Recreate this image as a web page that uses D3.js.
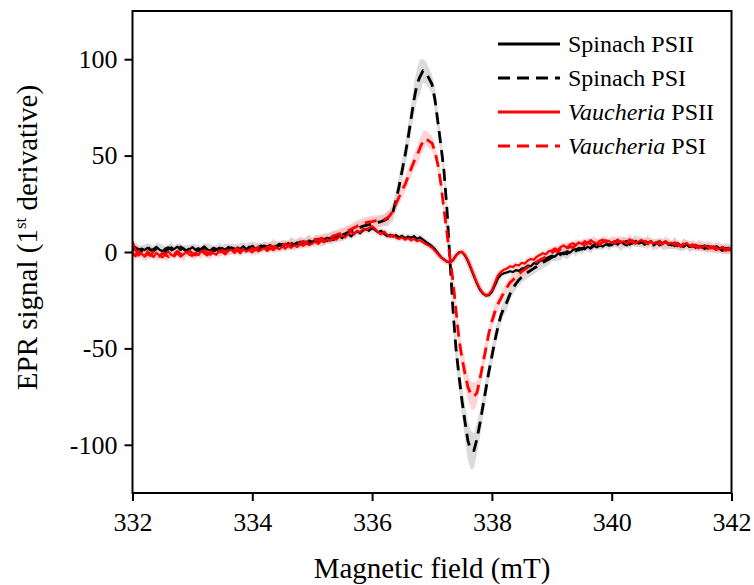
<!DOCTYPE html>
<html><head><meta charset="utf-8">
<script src="https://cdn.jsdelivr.net/npm/d3@7"></script>
<style>html,body{margin:0;padding:0;background:#fff;} svg{display:block;}</style>
</head><body><svg id="chart" width="754" height="585"></svg>
<script>
// ---------- data ----------
const fieldStart = 332, fieldStep = 0.05;   // sampling grid, mT
const xTicks = [332, 334, 336, 338, 340, 342];
const yTicks = [-100, -50, 0, 50, 100];
const legendLabels = [
  {italic: "", roman: "Spinach PSII"},
  {italic: "", roman: "Spinach PSI"},
  {italic: "Vaucheria", roman: " PSII"},
  {italic: "Vaucheria", roman: " PSI"}
];

const spinachPSII = [
  1.5, 2.5, 0.5, 1.8, 1.0, 2.2, 0.8, 1.5, 2.6, 1.2,
  0.4, 1.8, 2.4, 0.9, 1.6, 2.8, 1.0, 1.9, 0.6, 1.4,
  2.5, 1.1, 0.3, 1.7, 2.9, 1.3, 0.8, 2.2, 1.5, 0.7,
  2.0, 1.2, 2.6, 1.8, 0.9, 2.3, 1.6, 3.0, 1.4, 2.1,
  3.2, 1.7, 2.5, 3.4, 2.0, 2.8, 3.6, 2.3, 3.1, 4.2,
  2.8, 3.7, 4.6, 3.2, 4.1, 5.0, 3.9, 4.6, 5.4, 4.3,
  5.0, 6.1, 4.8, 5.9, 6.8, 5.6, 7.0, 6.2, 7.5, 8.3,
  7.2, 8.6, 9.4, 8.1, 9.8, 10.6, 9.7, 11.2, 12.0, 11.0,
  12.4, 11.3, 10.2, 11.0, 9.4, 8.2, 9.0, 8.0, 8.8, 7.6,
  8.4, 7.2, 8.0, 7.4, 8.2, 6.8, 7.6, 6.4, 5.2, 4.2,
  3.0, 1.5, -0.6, -2.6, -3.8, -5.0, -5.4, -4.2, -1.8, -0.2,
  0.0, -1.8, -4.8, -8.6, -12.6, -16.4, -19.6, -21.6, -22.6, -22.4,
  -20.6, -17.4, -13.8, -11.8, -11.0, -10.6, -10.0, -10.4, -9.4, -9.8,
  -8.6, -8.2, -7.0, -7.4, -5.8, -6.2, -4.6, -4.2, -3.4, -2.6,
  -2.0, -2.4, -1.0, -0.6, -1.2, 0.4, -0.4, 1.0, 1.6, 0.8,
  2.0, 1.4, 2.8, 1.8, 3.2, 2.4, 3.6, 2.8, 4.0, 3.4,
  3.6, 4.8, 3.8, 5.4, 4.2, 3.4, 5.2, 4.4, 5.8, 4.6,
  5.6, 3.8, 4.8, 5.6, 4.0, 5.0, 3.4, 4.4, 5.2, 3.6,
  4.2, 3.0, 4.6, 3.4, 2.6, 3.8, 2.8, 3.6, 2.2, 3.2,
  2.4, 3.4, 1.8, 2.8, 2.0, 3.0, 1.6, 2.6, 1.2, 2.2,
  1.0
];

const spinachPSI = [
  0.8, 2.0, 1.4, 0.4, 1.9, 2.6, 1.2, 0.6, 1.8, 2.4,
  1.0, 0.2, 1.6, 2.2, 0.8, 1.4, 2.6, 1.6, 0.5, 1.8,
  2.2, 1.0, 1.8, 0.6, 1.4, 2.4, 1.6, 0.4, 1.2, 2.0,
  1.4, 2.6, 1.0, 2.2, 1.6, 0.8, 2.8, 2.0, 1.2, 2.6,
  2.0, 3.0, 1.6, 2.6, 3.2, 2.2, 3.0, 3.8, 2.6, 3.4,
  4.0, 3.0, 3.8, 4.6, 3.6, 4.4, 5.2, 4.2, 5.0, 5.8,
  5.0, 5.8, 6.6, 5.6, 6.4, 7.2, 6.8, 7.6, 8.4, 8.0,
  8.8, 9.4, 10.2, 10.8, 11.6, 12.2, 12.8, 13.4, 13.8, 14.2,
  14.6, 15.0, 15.4, 15.8, 16.4, 17.2, 18.4, 21.0, 27.0, 34.0,
  42, 50, 59, 69, 79, 87, 91, 94, 93, 90,
  87, 79, 67, 55, 42, 22, -4, -30, -50, -64,
  -77, -88, -98, -103, -103, -97, -89, -80, -71, -62,
  -54, -46, -39, -33, -29, -26, -22, -19, -16.5, -14.5,
  -13, -11.5, -10.5, -9.5, -8.5, -7.5, -6.5, -5.5, -4.6, -3.8,
  -2.8, -2.0, -2.6, -1.2, -0.4, -1.0, 0.6, 1.4, 0.6, 2.0,
  1.4, 2.6, 3.4, 2.2, 3.6, 4.4, 3.2, 4.0, 4.8, 3.6,
  4.6, 5.4, 4.2, 3.4, 4.8, 5.6, 4.0, 5.2, 6.0, 4.6,
  5.2, 4.2, 5.8, 4.4, 3.6, 4.8, 5.4, 4.0, 3.2, 4.4,
  3.6, 4.6, 3.2, 2.4, 3.8, 4.2, 2.8, 3.4, 2.4, 3.6,
  2.8, 1.8, 3.0, 2.2, 1.4, 2.6, 1.8, 0.8, 2.0, 1.2,
  1.6
];

const vaucheriaPSII = [
  5.5, 0.8, -1.8, -0.6, -2.4, 0.4, -1.2, -2.6, -0.4, -1.8,
  -2.8, -1.0, 0.2, -1.6, -2.2, -0.6, -2.4, -1.2, 0.0, -1.4,
  -2.0, -0.4, -1.6, 0.6, -0.8, -1.8, 0.4, -0.6, -1.4, 0.8,
  -0.2, -1.2, 0.6, 1.2, -0.4, 0.8, -0.6, 1.4, 0.2, 1.0,
  -0.2, 1.6, 0.4, 1.2, 2.0, 0.6, 1.8, 1.0, 2.4, 1.4,
  2.8, 1.8, 3.2, 2.2, 3.6, 2.6, 4.0, 3.2, 4.4, 3.6,
  4.4, 5.4, 4.2, 5.8, 5.0, 6.6, 5.8, 7.0, 6.4, 7.8,
  8.6, 7.6, 9.4, 10.4, 9.2, 11.0, 10.2, 12.0, 11.4, 12.6,
  13.4, 12.0, 10.4, 9.2, 10.6, 9.0, 7.8, 8.8, 7.4, 6.8,
  7.6, 6.4, 7.2, 6.0, 6.8, 5.6, 6.2, 5.0, 4.0, 3.2,
  2.2, 0.6, -1.2, -2.8, -4.0, -5.0, -5.6, -4.4, -2.0, -0.4,
  0.2, -1.4, -4.2, -8.0, -12.0, -15.8, -19.0, -21.2, -22.4, -22.0,
  -19.8, -16.0, -12.2, -10.4, -9.2, -8.6, -7.4, -7.8, -6.6, -7.0,
  -5.6, -6.0, -4.4, -3.6, -4.0, -2.4, -1.6, -0.6, -1.2, 0.4,
  0.8, 1.8, 1.0, 2.6, 3.4, 2.2, 3.8, 4.6, 3.4, 5.0,
  4.2, 5.6, 4.6, 6.2, 5.0, 4.4, 5.8, 6.4, 5.0, 5.8,
  4.6, 5.4, 6.2, 4.8, 5.6, 4.2, 5.2, 6.0, 4.8, 5.4,
  6.2, 5.0, 4.2, 5.6, 4.4, 5.2, 3.8, 4.8, 5.6, 4.0,
  4.8, 3.6, 4.4, 2.8, 3.8, 4.6, 3.2, 2.6, 3.8, 3.0,
  2.2, 3.4, 2.6, 1.8, 3.0, 2.2, 1.4, 2.6, 1.6, 0.8,
  1.8
];

const vaucheriaPSI = [
  -0.6, -2.0, 0.4, -1.4, -2.6, -0.8, -1.8, 0.2, -1.2, -2.2,
  -0.6, -1.6, -2.4, -0.4, -1.2, 0.4, -1.0, -2.0, -0.6, 0.6,
  -0.8, -1.6, 0.2, -0.6, 0.8, -0.4, -1.2, 0.6, 1.2, 0.0,
  0.8, -0.2, 1.4, 0.4, 1.0, 1.8, 0.6, 1.6, 2.2, 1.2,
  2.0, 1.0, 2.6, 1.8, 2.8, 2.0, 3.2, 2.4, 3.6, 2.8,
  3.4, 4.2, 3.2, 4.6, 3.8, 5.0, 4.4, 5.6, 4.8, 6.0,
  5.4, 6.6, 6.0, 7.2, 6.6, 7.8, 7.2, 8.4, 8.8, 9.4,
  9.6, 10.4, 11.0, 11.8, 12.6, 13.4, 14.0, 14.8, 15.2, 15.6,
  15.8, 16.2, 16.0, 16.4, 16.8, 17.6, 19.0, 21.5, 25.0, 28.5,
  32, 35, 39, 43, 47, 50, 54, 57.5, 59, 57.5,
  56.5, 52, 45, 35, 22, 10, -3, -15, -30, -45,
  -55, -63, -70, -74, -75, -73, -66, -58, -50, -42,
  -36, -31, -27, -24, -21, -18.5, -16, -14.5, -13, -11.5,
  -10, -9, -8, -7, -6, -5, -4.2, -3.4, -2.4, -1.6,
  -0.4, 0.8, 0.2, 1.6, 2.4, 1.4, 3.0, 2.2, 3.8, 3.0,
  4.4, 3.6, 5.0, 4.2, 5.6, 4.6, 3.8, 5.2, 6.0, 4.8,
  5.6, 4.4, 6.2, 5.0, 5.8, 4.6, 6.4, 5.2, 4.4, 5.8,
  4.8, 5.6, 4.2, 5.4, 4.6, 3.8, 5.0, 4.2, 5.4, 4.4,
  3.6, 4.8, 3.8, 3.0, 4.2, 3.4, 2.6, 3.8, 3.0, 2.2,
  3.2, 2.4, 1.6, 2.8, 2.0, 1.2, 2.4, 1.6, 0.8, 1.8,
  1.0
];

// standard deviation (shaded bands) of the PSI spectra
const spinachPSIsd = [
  2, 3, 2, 3, 2, 2, 3, 2, 3, 2,
  3, 2, 2, 3, 2, 3, 2, 2, 3, 2,
  2, 3, 2, 2, 3, 2, 3, 2, 2, 3,
  2, 2, 3, 2, 3, 2, 2, 3, 2, 3,
  3, 2, 3, 2, 2, 3, 2, 3, 3, 2,
  2, 3, 2, 3, 3, 2, 3, 2, 3, 3,
  2, 3, 2, 3, 3, 2, 3, 3, 3, 3,
  3, 3, 3, 3, 3, 3, 3, 3, 3, 3,
  3, 3, 3, 3, 3, 4, 4, 5, 5, 6,
  6, 6, 7, 7, 8, 8, 9, 6, 6, 5,
  5, 6, 6, 6, 6, 6, 7, 7, 8, 8,
  8, 9, 10, 10, 9, 8, 7, 6, 6, 5,
  5, 5, 4, 4, 4, 4, 3, 3, 3, 3,
  3, 3, 3, 3, 3, 3, 3, 3, 3, 3,
  2, 3, 2, 3, 2, 3, 3, 2, 3, 2,
  3, 2, 3, 3, 2, 3, 2, 3, 2, 3,
  2, 3, 2, 3, 3, 2, 3, 2, 3, 2,
  3, 2, 3, 2, 3, 2, 2, 3, 2, 3,
  2, 3, 2, 2, 3, 2, 3, 2, 2, 3,
  2, 2, 3, 2, 2, 3, 2, 2, 3, 2,
  2
];

const vaucheriaPSIsd = [
  2, 2, 3, 2, 2, 3, 2, 2, 3, 2,
  2, 3, 2, 2, 3, 2, 2, 3, 2, 2,
  3, 2, 2, 3, 2, 2, 3, 2, 2, 3,
  2, 2, 3, 2, 2, 3, 2, 2, 3, 2,
  2, 3, 2, 2, 3, 2, 2, 3, 2, 2,
  3, 2, 2, 3, 2, 2, 3, 2, 2, 3,
  2, 2, 3, 2, 3, 2, 3, 3, 2, 3,
  3, 3, 3, 3, 3, 3, 3, 3, 3, 3,
  3, 3, 3, 3, 3, 3, 3, 3, 4, 4,
  4, 4, 4, 4, 4, 5, 5, 5, 4, 4,
  4, 4, 4, 5, 5, 5, 5, 6, 6, 6,
  6, 7, 7, 7, 7, 6, 5, 5, 5, 4,
  4, 4, 4, 3, 3, 3, 3, 3, 3, 3,
  3, 3, 3, 2, 3, 2, 3, 2, 2, 3,
  2, 2, 3, 2, 2, 3, 2, 2, 3, 2,
  2, 3, 2, 2, 3, 2, 2, 3, 2, 2,
  3, 2, 2, 3, 2, 2, 3, 2, 2, 3,
  2, 2, 3, 2, 2, 3, 2, 2, 3, 2,
  2, 3, 2, 2, 3, 2, 2, 3, 2, 2,
  3, 2, 2, 3, 2, 2, 3, 2, 2, 3,
  2
];

// ---------- drawing ----------
const W = 754, H = 585;
const plot = {left: 132.5, right: 731.5, top: 11, bottom: 493};
const FONT = "'Liberation Serif', 'Times New Roman', serif";

const svg = d3.select("#chart");
svg.append("rect").attr("width", W).attr("height", H).attr("fill", "#fff");

const x = d3.scaleLinear().domain([332, 342]).range([plot.left, plot.right]);
const y = d3.scaleLinear().domain([-125, 125]).range([plot.bottom, plot.top]);
const fieldAt = i => fieldStart + i * fieldStep;

svg.append("defs").append("clipPath").attr("id", "clip")
  .append("rect").attr("x", plot.left).attr("y", plot.top)
  .attr("width", plot.right - plot.left).attr("height", plot.bottom - plot.top);

const g = svg.append("g").attr("clip-path", "url(#clip)");

const band = (vals, sd) => d3.area()
  .x((d, i) => x(fieldAt(i)))
  .y0((d, i) => y(vals[i] - sd[i]))
  .y1((d, i) => y(vals[i] + sd[i]))(vals);

g.append("path").attr("d", band(spinachPSI, spinachPSIsd))
  .attr("fill", "#c8c8c8").attr("fill-opacity", 0.65);
g.append("path").attr("d", band(vaucheriaPSI, vaucheriaPSIsd))
  .attr("fill", "#ffb0b0").attr("fill-opacity", 0.55);

const line = d3.line().x((d, i) => x(fieldAt(i))).y(d => y(d));

// faint halos for the PSII spectra
g.append("path").attr("d", line(spinachPSII)).attr("fill", "none")
  .attr("stroke", "#d0d0d0").attr("stroke-width", 6).attr("stroke-opacity", 0.5).attr("stroke-linejoin", "round");
g.append("path").attr("d", line(vaucheriaPSII)).attr("fill", "none")
  .attr("stroke", "#ffc0c0").attr("stroke-width", 6).attr("stroke-opacity", 0.45).attr("stroke-linejoin", "round");

const styles = [
  {data: spinachPSII, color: "#000", dash: null},
  {data: spinachPSI, color: "#000", dash: "12,7"},
  {data: vaucheriaPSII, color: "#ff0000", dash: null},
  {data: vaucheriaPSI, color: "#ff0000", dash: "12,7"}
];
[1, 0, 3, 2].forEach(k => {
  const s = styles[k];
  g.append("path").attr("d", line(s.data)).attr("fill", "none")
    .attr("stroke", s.color).attr("stroke-width", s.dash ? 2.8 : 2.2)
    .attr("stroke-linejoin", "round")
    .attr("stroke-dasharray", s.dash);
});

// frame
svg.append("rect").attr("x", plot.left).attr("y", plot.top)
  .attr("width", plot.right - plot.left).attr("height", plot.bottom - plot.top)
  .attr("fill", "none").attr("stroke", "#000").attr("stroke-width", 2);

// axes (plain hyphen-minus as in the original)
const fmt = d => String(d);
const xAxis = svg.append("g").attr("transform", `translate(0,${plot.bottom})`)
  .call(d3.axisBottom(x).tickValues(xTicks).tickFormat(fmt).tickSize(8).tickSizeOuter(0).tickPadding(12));
const yAxis = svg.append("g").attr("transform", `translate(${plot.left},0)`)
  .call(d3.axisLeft(y).tickValues(yTicks).tickFormat(fmt).tickSize(8).tickSizeOuter(0).tickPadding(7));
[xAxis, yAxis].forEach(a => {
  a.select(".domain").remove();
  a.selectAll(".tick line").attr("stroke", "#000").attr("stroke-width", 2);
  a.selectAll(".tick text").attr("fill", "#000").style("font-family", FONT).style("font-size", "26px");
});

// axis titles
svg.append("text").attr("x", (plot.left + plot.right) / 2).attr("y", 577.5)
  .attr("text-anchor", "middle").style("font-family", FONT).style("font-size", "29px")
  .text("Magnetic field (mT)");

const yt = svg.append("text").attr("transform", "translate(36.5,237.5) rotate(-90)")
  .attr("text-anchor", "middle").style("font-family", FONT).style("font-size", "29px");
yt.append("tspan").text("EPR signal (1");
yt.append("tspan").attr("font-size", "17px").attr("dy", "-11").text("st");
yt.append("tspan").attr("dy", "11").text(" derivative)");

// legend
const leg = svg.append("g");
legendLabels.forEach((lab, i) => {
  const yy = 44 + i * 34;
  const s = styles[i];
  leg.append("line").attr("x1", 498).attr("x2", 560).attr("y1", yy).attr("y2", yy)
    .attr("stroke", s.color).attr("stroke-width", 3).attr("stroke-dasharray", s.dash);
  const t = leg.append("text").attr("x", 568).attr("y", yy + 8)
    .style("font-family", FONT).style("font-size", "24px").attr("fill", "#000");
  if (lab.italic) t.append("tspan").style("font-style", "italic").text(lab.italic);
  t.append("tspan").text(lab.roman);
});
</script>
</body></html>
